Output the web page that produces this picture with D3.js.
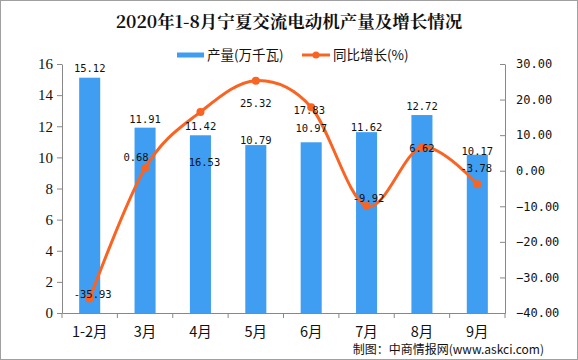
<!DOCTYPE html>
<html><head><meta charset="utf-8">
<script src="https://cdn.jsdelivr.net/npm/d3@7"></script>
<style>
html,body{margin:0;padding:0;background:#fff;}
svg{display:block;}
</style></head>
<body>
<script>
const categories = ["1-2月","3月","4月","5月","6月","7月","8月","9月"];
const output = [15.12, 11.91, 11.42, 10.79, 10.97, 11.62, 12.72, 10.17];
const growth = [-35.93, 0.68, 16.53, 25.32, 17.83, -9.92, 6.62, -3.78];
const leftTicks = [0,2,4,6,8,10,12,14,16];
const rightTicks = [-40,-30,-20,-10,0,10,20,30];
const title = "2020年1-8月宁夏交流电动机产量及增长情况";
const legendLabels = ["产量(万千瓦)", "同比增长(%)"];
const source = "制图：中商情报网(www.askci.com)";

// label offsets (style only)
const barLabelDy = [-9.7, -8.6, -9, -5, -14, -5, -9, -3.5];
const lineLabelOff = [[3,-4],[-9,-11],[4,50],[0,23],[-2,3],[2,-8],[0,1],[-1,-16]];

const W = 578, H = 360;
const svg = d3.select("body").append("svg").attr("width", W).attr("height", H);
svg.append("rect").attr("x",0.5).attr("y",0.5).attr("width",W-1).attr("height",H-1)
  .attr("fill","#fff").attr("stroke","#a0a0a0");

const x0 = 62, x1 = 505, yTop = 64, yBot = 313;
const x = d3.scaleBand().domain(categories).range([x0, x1]).paddingInner(0.62).paddingOuter(0.31);
const yL = d3.scaleLinear().domain([0,16]).range([yBot, yTop]);
const yR = d3.scaleLinear().domain([-40,30]).range([yBot, yTop]);

const blue = "#3f9ef1", orange = "#fa6423", axisCol = "#888";
const numFont = "'DejaVu Sans Mono','Liberation Mono',monospace";
const cjk = "'Noto Sans CJK SC','Noto Sans',sans-serif";

// title
svg.append("text").attr("x", 289).attr("y", 28).attr("text-anchor","middle")
  .attr("font-family", "'Noto Serif CJK SC','Noto Sans CJK SC',serif").attr("font-weight","bold")
  .attr("font-size", 17.5).attr("fill","#111").text(title);

// legend
svg.append("rect").attr("x",177).attr("y",52.5).attr("width",27).attr("height",5).attr("fill",blue);
svg.append("text").attr("x",207).attr("y",60).attr("font-family",cjk).attr("font-size",13.5).attr("fill","#111").text(legendLabels[0]);
svg.append("line").attr("x1",302).attr("x2",330).attr("y1",55).attr("y2",55).attr("stroke",orange).attr("stroke-width",3);
svg.append("circle").attr("cx",316).attr("cy",55).attr("r",3.5).attr("fill",orange);
svg.append("text").attr("x",333).attr("y",60).attr("font-family",cjk).attr("font-size",13.5).attr("fill","#111").text(legendLabels[1]);

// bars
svg.append("g").selectAll("rect").data(output).join("rect")
  .attr("x",(d,i)=>x(categories[i])).attr("width",x.bandwidth())
  .attr("y",d=>yL(d)).attr("height",d=>yBot-yL(d)).attr("fill",blue);

// axes
const gL = svg.append("g").attr("transform",`translate(${x0},0)`)
  .call(d3.axisLeft(yL).tickValues(leftTicks).tickSize(5).tickSizeOuter(0).tickPadding(4));
const gR = svg.append("g").attr("transform",`translate(${x1},0)`)
  .call(d3.axisRight(yR).tickValues(rightTicks).tickFormat(d3.format(".2f")).tickSize(5).tickSizeOuter(0).tickPadding(6));
gR.selectAll(".tick line").attr("x2",-5);
const gX = svg.append("g").attr("transform",`translate(0,${yBot})`)
  .call(d3.axisBottom(x).tickSize(0).tickSizeOuter(0).tickPadding(14));
// boundary ticks
const step = x.step();
gX.append("g").selectAll("line").data(d3.range(categories.length+1)).join("line")
  .attr("x1",i=>x0+i*step).attr("x2",i=>x0+i*step).attr("y1",0).attr("y2",5).attr("stroke",axisCol);

[gL,gR,gX].forEach(g=>{
  g.select(".domain").attr("stroke",axisCol);
  g.selectAll(".tick line").attr("stroke",axisCol);
  g.selectAll("text").attr("fill","#111");
});
gL.selectAll("text").attr("font-family","'Liberation Serif','DejaVu Serif',serif").attr("font-size",15);
gR.selectAll("text").attr("font-family",numFont).attr("font-size",12);
gX.selectAll(".tick text").attr("font-family",cjk).attr("font-size",14.5);

// line
const cx = i => x(categories[i]) + x.bandwidth()/2;
const line = d3.line().x((d,i)=>cx(i)).y(d=>yR(d)).curve(d3.curveCardinal.tension(0));
svg.append("path").datum(growth).attr("d",line).attr("fill","none").attr("stroke",orange).attr("stroke-width",3);
svg.append("g").selectAll("circle").data(growth).join("circle")
  .attr("cx",(d,i)=>cx(i)).attr("cy",d=>yR(d)).attr("r",4).attr("fill",orange);

// bar labels
svg.append("g").selectAll("text").data(output).join("text")
  .attr("x",(d,i)=>cx(i)).attr("y",(d,i)=>yL(d)+barLabelDy[i]).attr("dy","0.35em")
  .attr("text-anchor","middle").attr("font-family",numFont).attr("font-size",10.5).attr("fill","#111")
  .text(d=>d.toFixed(2));
// line labels
svg.append("g").selectAll("text").data(growth).join("text")
  .attr("x",(d,i)=>cx(i)+lineLabelOff[i][0]).attr("y",(d,i)=>yR(d)+lineLabelOff[i][1]).attr("dy","0.35em")
  .attr("text-anchor","middle").attr("font-family",numFont).attr("font-size",10.5).attr("fill","#111")
  .text(d=>d.toFixed(2));

// source
svg.append("text").attr("x",544).attr("y",354).attr("text-anchor","end")
  .attr("font-family",cjk).attr("font-size",12).attr("fill","#111").text(source);
</script>
</body></html>
